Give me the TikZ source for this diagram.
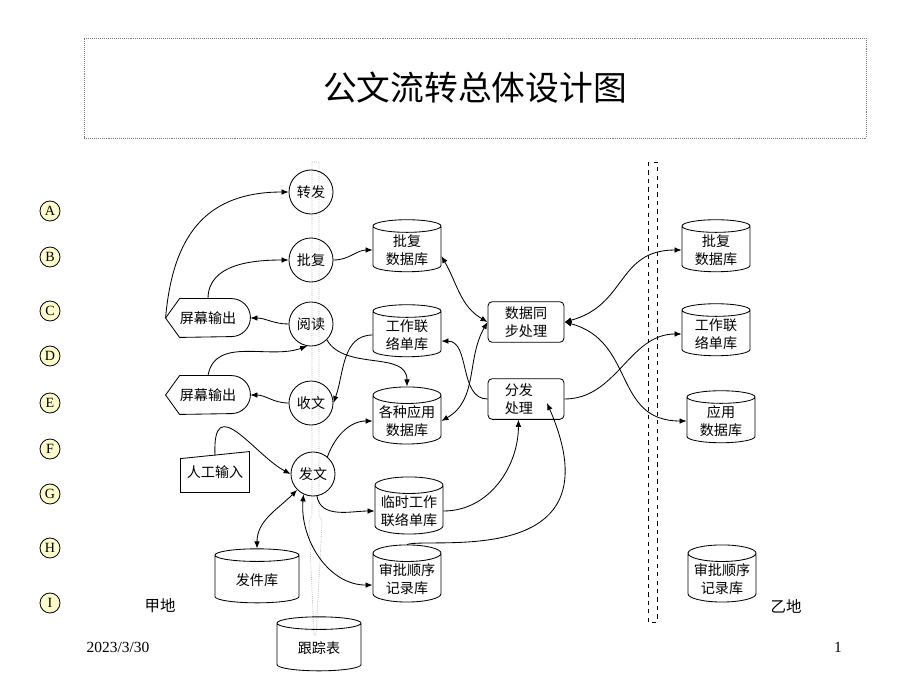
\documentclass[tikz,border=0pt]{standalone}
\usepackage{fontspec}
\setmainfont{Liberation Serif}
\newfontfamily\cjk{Noto Sans CJK SC}
\usetikzlibrary{positioning,calc,shapes.geometric,arrows.meta}

\begin{document}
\begin{tikzpicture}[x=0.025cm,y=0.025cm,>={Latex[length=5pt,width=4pt]},line width=0.6pt]
    \tikzstyle{proc}=[circle, draw, minimum size=1.1cm, inner sep=0pt, font=\cjk\fontsize{10}{13}\selectfont]
    \tikzstyle{db}=[cylinder, shape border rotate=90, draw, aspect=0.28, minimum width=1.7cm, minimum height=1.3cm, inner sep=1pt, align=center, font=\cjk\fontsize{10}{13}\selectfont]
    \tikzstyle{task}=[rectangle, draw, rounded corners=3pt, minimum width=1.9cm, minimum height=0.98cm, text width=3em, align=left, font=\cjk\fontsize{10}{13}\selectfont]
    \tikzstyle{screen}=[minimum width=2.1cm, minimum height=0.95cm, inner sep=0pt, font=\cjk\fontsize{10}{13}\selectfont]
    \tikzstyle{tag}=[circle, draw, fill=yellow!20, minimum size=0.5cm, inner sep=0pt, font=\fontsize{10}{12}\selectfont]
    \useasboundingbox (0,0) rectangle (920,-690);

    \node (title) [draw=gray, densely dotted, line width=0.4pt, minimum width=19.55cm, minimum height=2.5cm, font=\cjk\fontsize{24}{28}\selectfont] at (475,-88) {公文流转总体设计图};

    % tracking pipe
    \draw [gray!70, densely dotted, line width=0.5pt] (312,-162) -- (319,-162) -- (319,-515) -- (322,-522) -- (316,-635) -- (314,-635) -- (309,-522) -- (312,-515) -- cycle;
    \draw [dashed, line width=0.5pt] (648,-162) rectangle (657,-622);

    \foreach \l/\y in {A/211,B/257,C/311,D/356,E/403,F/449,G/494,H/548,I/603}
        \node (tag\l) [tag] at (50,-\y) {\l};

    \node (zf) [proc] at (311,-192) {转发};
    \node (pf) [proc] at (311,-260) {批复};
    \node (yd) [proc] at (311,-324) {阅读};
    \node (sw) [proc] at (311,-403) {收文};
    \node (fw) [proc] at (313,-474) {发文};

    \node (scr1) [screen] at (208,-318) {屏幕输出};
    \node (scr2) [screen] at (208,-395) {屏幕输出};
    \foreach \s in {scr1,scr2}
        \draw (\s.west) -- ([xshift=0.35cm]\s.north west) -- ([xshift=-0.475cm]\s.north east) arc[start angle=90,end angle=-90,radius=0.475cm] -- ([xshift=0.35cm]\s.south west) -- cycle;
    \node (manin) [screen, minimum width=1.7cm, minimum height=1cm] at (215,-472) {人工输入};
    \draw ([yshift=-0.175cm]manin.north west) -- (manin.north east) -- (manin.south east) -- (manin.south west) -- cycle;

    \node (dbpf) [db] at (407,-250) {批复\\数据库};
    \node (dbgz) [db] at (407,-335) {工作联\\络单库};
    \node (dbyy) [db] at (407,-421) {各种应用\\数据库};
    \node (dbls) [db] at (409,-511) {临时工作\\联络单库};
    \node (dbsp) [db] at (407,-579) {审批顺序\\记录库};
    \node (fjk) [db, minimum width=2.1cm, minimum height=1.35cm] at (257,-580) {发件库};
    \node (gzb) [db, minimum width=2.1cm, minimum height=1.35cm] at (319,-648) {跟踪表};

    \node (sync) [task] at (526,-322) {数据同\\步处理};
    \node (fc) [task] at (526,-399) {分发\\处理};

    \node (rpf) [db] at (716,-250) {批复\\数据库};
    \node (rgz) [db] at (716,-334) {工作联\\络单库};
    \node (ryy) [db] at (721,-421) {应用\\数据库};
    \node (rsp) [db] at (722,-579) {审批顺序\\记录库};

    \node (jia) [font=\cjk\fontsize{11}{13}\selectfont] at (160,-606) {甲地};
    \node (yi) [font=\cjk\fontsize{11}{13}\selectfont] at (786,-606) {乙地};
    \node (date) [font=\fontsize{11}{13}\selectfont] at (118,-647) {2023/3/30};
    \node (page) [font=\fontsize{11}{13}\selectfont] at (838,-647) {1};

    % left side
    \draw [->] (scr1.west) to[out=85,in=180,looseness=1.2] (zf.west);
    \draw [->] (scr1.north) to[out=90,in=180] (pf.west);
    \draw [->] (yd.west) to[out=180,in=0] (scr1.east);
    \draw [->] (scr2.north) to[out=80,in=200] (yd.260);
    \draw [->] (sw.west) to[out=180,in=0] (scr2.east);
    \draw [->] ([yshift=-0.1cm]manin.north) .. controls +(-3,66) and +(-36,19) .. (fw.west);

    % middle
    \draw [->] (pf.east) to[out=0,in=180] (dbpf.west);
    \draw [->] (yd.-45) to[out=-60,in=90] (dbyy.north);
    \draw [->] (dbgz.west) to[out=180,in=70] (sw.east);
    \draw [->] (fw.50) to[out=70,in=180] (dbyy.west);
    \draw [->] (fw.-80) to[out=-80,in=180] (dbls.west);
    \draw [<->] (fjk.north) to[out=90,in=225] (fw.225);
    \draw [<->] (fw.245) to[out=265,in=180] (dbsp.190);
    \draw [->] (dbls.east) to[out=0,in=-90] (fc.-110);
    \coordinate (fcin) at ($(fc.center)+(21,-4)$);
    \draw [->] (dbsp.north) .. controls +(23,8) and +(73,-168) .. (fcin);
    \draw [<->] (dbpf.-10) to[out=-60,in=150] (sync.west);
    \draw [<->] (dbyy.east) to[out=30,in=240] (sync.west);
    \draw [->] (fc.west) to[out=180,in=0] (dbgz.-10);

    % right side
    \draw [<->] (sync.east) to[out=15,in=180,looseness=1.2] (rpf.west);
    \draw [<->] (sync.east) to[out=-15,in=180,looseness=1.2] (ryy.west);
    \draw [->] (fc.east) to[out=0,in=180] (rgz.west);
\end{tikzpicture}
\end{document}
